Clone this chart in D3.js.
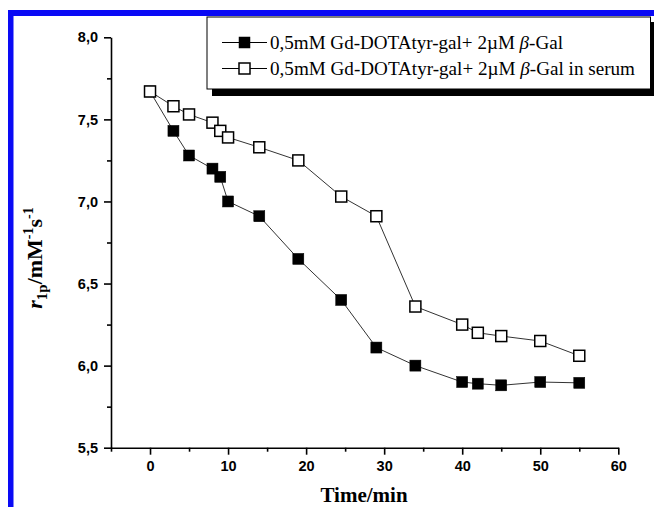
<!DOCTYPE html>
<html><head><meta charset="utf-8">
<script src="https://cdn.jsdelivr.net/npm/d3@7"></script>
<style>body{margin:0;background:#fff;} svg{display:block;}</style>
</head><body>
<svg id="c" width="654" height="507"></svg>
<script>
const timeMin = [0, 3, 5, 8, 9, 10, 14, 19, 24.5, 29, 34, 40, 42, 45, 50, 55];
const r1pBuffer = [7.67, 7.43, 7.28, 7.20, 7.15, 7.00, 6.91, 6.65, 6.40, 6.11, 6.00, 5.90, 5.89, 5.88, 5.90, 5.895];
const r1pSerum  = [7.67, 7.58, 7.53, 7.48, 7.43, 7.39, 7.33, 7.25, 7.03, 6.91, 6.36, 6.25, 6.20, 6.18, 6.15, 6.06];
const seriesNames = ["0,5mM Gd-DOTAtyr-gal+ 2\u00B5M ", "0,5mM Gd-DOTAtyr-gal+ 2\u00B5M "];
const seriesSuffix = ["-Gal", "-Gal in serum"];
const xTicks = [0, 10, 20, 30, 40, 50, 60];
const yTicks = [5.5, 6.0, 6.5, 7.0, 7.5, 8.0];

const svg = d3.select("#c");
const x = d3.scaleLinear().domain([-5, 60]).range([111, 618.3]);
const y = d3.scaleLinear().domain([5.5, 8.0]).range([447.7, 37.3]);

// blue frame
svg.append("rect").attr("x", 8).attr("y", 10).attr("width", 660).attr("height", 6).attr("fill", "#0a0af5");
svg.append("rect").attr("x", 8).attr("y", 10).attr("width", 5.5).attr("height", 510).attr("fill", "#0a0af5");

const fmt = d => d3.format(".1f")(d).replace(".", ",");

// axes
const xMinor = d3.range(-5, 61, 5);
const xAxis = d3.axisBottom(x).tickValues(xMinor).tickSize(6).tickSizeOuter(0)
  .tickFormat(d => xTicks.includes(d) ? d : "");
const gx = svg.append("g").attr("transform", `translate(0,${y(5.5)})`).call(xAxis);
gx.selectAll(".tick line").attr("y2", d => xTicks.includes(d) ? 7 : 4).attr("stroke-width", 1.6);
gx.select(".domain").attr("stroke-width", 1.6);
gx.selectAll(".tick text").attr("font-family", "Liberation Sans, Arial, sans-serif")
  .attr("font-weight", "bold").attr("font-size", 14.5).attr("fill", "#000").attr("dy", "1.0em");

const yMinor = d3.range(0, 11).map(i => 5.5 + i * 0.25);
const yAxis = d3.axisLeft(y).tickValues(yMinor).tickSize(6).tickSizeOuter(0)
  .tickFormat(d => yTicks.some(t => Math.abs(t - d) < 1e-9) ? fmt(d) : "");
const gy = svg.append("g").attr("transform", `translate(${x(-5)},0)`).call(yAxis);
gy.selectAll(".tick line").attr("x2", d => yTicks.some(t => Math.abs(t - d) < 1e-9) ? -7 : -4).attr("stroke-width", 1.6);
gy.select(".domain").attr("stroke-width", 1.6);
gy.selectAll(".tick text").attr("font-family", "Liberation Sans, Arial, sans-serif")
  .attr("font-weight", "bold").attr("font-size", 14.5).attr("fill", "#000").attr("x", -13);

// axis titles
svg.append("text").attr("x", 364).attr("y", 502).attr("text-anchor", "middle")
  .attr("font-family", "Liberation Serif, Times New Roman, serif").attr("font-weight", "bold")
  .attr("font-size", 21).text("Time/min");

const yl = svg.append("text").attr("transform", "translate(42,258) rotate(-90)").attr("text-anchor", "middle")
  .attr("font-family", "Liberation Serif, Times New Roman, serif").attr("font-weight", "bold").attr("font-size", 22);
yl.append("tspan").attr("font-style", "italic").text("r");
yl.append("tspan").attr("font-size", 15).attr("dy", 5).text("1p");
yl.append("tspan").attr("dy", -5).text("/mM");
yl.append("tspan").attr("font-size", 14).attr("dy", -9).text("-1");
yl.append("tspan").attr("dy", 9).text("s");
yl.append("tspan").attr("font-size", 14).attr("dy", -9).text("-1");

// data
const line = d3.line().x(d => x(d[0])).y(d => y(d[1]));
const sets = [timeMin.map((t, i) => [t, r1pBuffer[i]]), timeMin.map((t, i) => [t, r1pSerum[i]])];
const ms = 11;
sets.forEach((pts, k) => {
  svg.append("path").datum(pts).attr("d", line).attr("fill", "none").attr("stroke", "#333").attr("stroke-width", 1);
});
sets.forEach((pts, k) => {
  svg.append("g").selectAll("rect").data(pts).join("rect")
    .attr("x", d => x(d[0]) - ms / 2).attr("y", d => y(d[1]) - ms / 2)
    .attr("width", ms).attr("height", ms)
    .attr("fill", k === 0 ? "#000" : "#fff").attr("stroke", "#000").attr("stroke-width", k === 0 ? 0.5 : 1.5);
});

// legend
const lg = svg.append("g");
lg.append("rect").attr("x", 212).attr("y", 22).attr("width", 450).attr("height", 74).attr("fill", "#000");
lg.append("rect").attr("x", 207).attr("y", 17).attr("width", 443.5).attr("height", 72).attr("fill", "#fff").attr("stroke", "#000").attr("stroke-width", 1);
const ly = [42.5, 68.5];
const lens = [293, 365];
ly.forEach((yy, k) => {
  lg.append("line").attr("x1", 222).attr("x2", 267).attr("y1", yy).attr("y2", yy).attr("stroke", "#000").attr("stroke-width", 1.2);
  lg.append("rect").attr("x", 244.5 - ms / 2).attr("y", yy - ms / 2).attr("width", ms).attr("height", ms)
    .attr("fill", k === 0 ? "#000" : "#fff").attr("stroke", "#000").attr("stroke-width", k === 0 ? 0.5 : 1.5);
  const t = lg.append("text").attr("x", 270).attr("y", yy + 6)
    .attr("font-family", "Liberation Serif, Times New Roman, serif").attr("font-size", 18.5)
    .attr("textLength", lens[k]).attr("lengthAdjust", "spacingAndGlyphs");
  t.append("tspan").text(seriesNames[k]);
  t.append("tspan").attr("font-style", "italic").text("\u03B2");
  t.append("tspan").text(seriesSuffix[k]);
});
</script>
</body></html>
